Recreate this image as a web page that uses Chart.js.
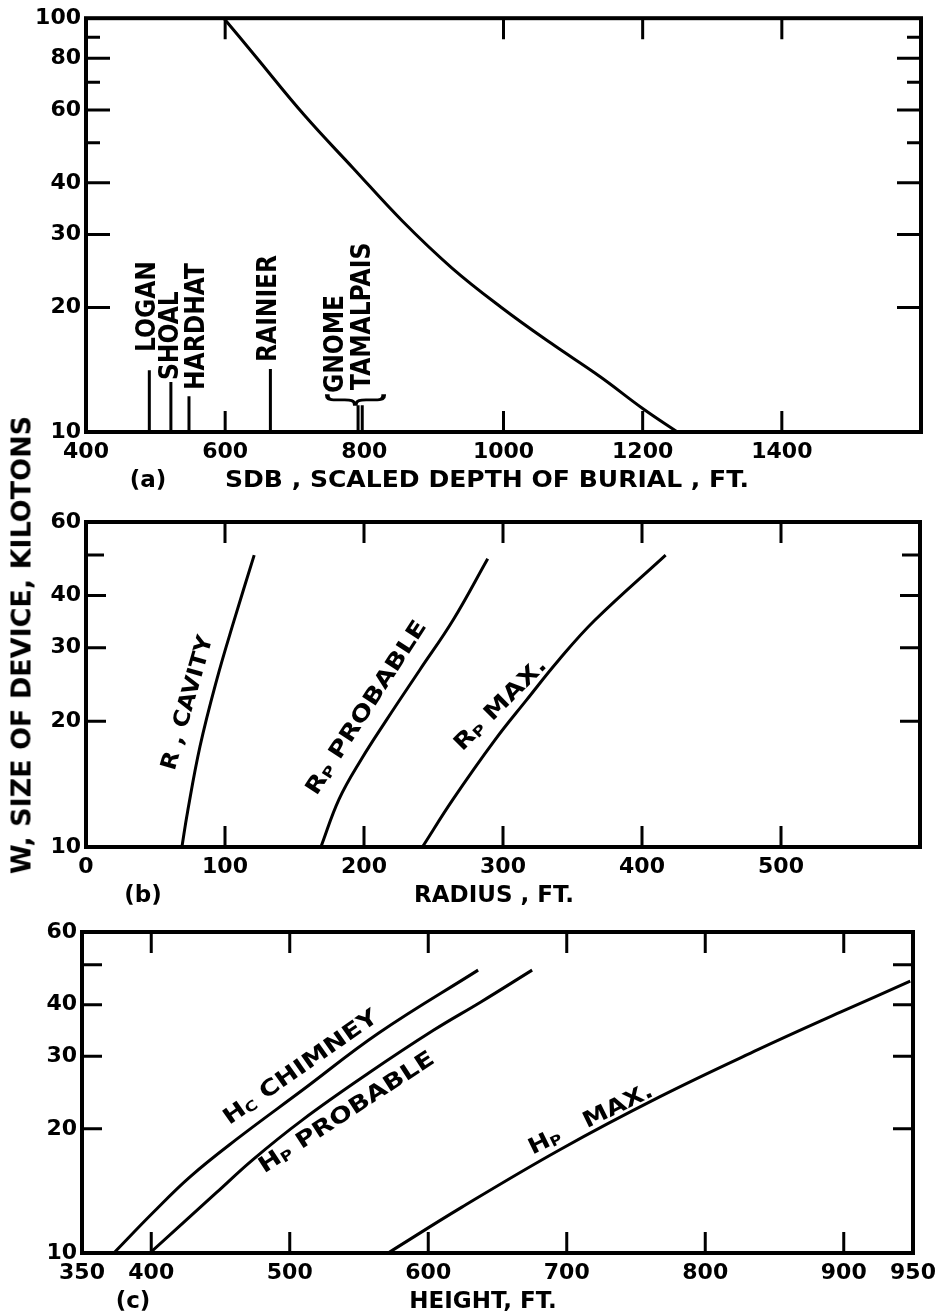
<!DOCTYPE html>
<html>
<head>
<meta charset="utf-8">
<script src="https://cdn.jsdelivr.net/npm/chart.js@4.4.1/dist/chart.umd.min.js"></script>
<style>
body { margin: 0; background: #fff; }
#page { position: relative; width: 945px; height: 1315px; overflow: hidden; background: #fff; }
#page canvas { position: absolute; left: 0; }
#ytitle { position: absolute; left: 21px; top: 645px; font-size: 27px; font-weight: bold; font-family: "DejaVu Sans", sans-serif; color: #000;
  white-space: nowrap; transform: translate(-50%, -50%) rotate(-90deg); }
</style>
</head>
<body>
<div id="page">
  <canvas id="chart-a" width="945" height="500" style="top:0px"></canvas>
  <canvas id="chart-b" width="945" height="410" style="top:500px"></canvas>
  <canvas id="chart-c" width="945" height="405" style="top:910px"></canvas>
  <div id="ytitle">W, SIZE OF DEVICE, KILOTONS</div>
</div>
<script>
Chart.defaults.font.family = '"DejaVu Sans", sans-serif';
Chart.defaults.font.weight = 'bold';
Chart.defaults.color = '#000';

// (a) scaled depth of burial (ft) against device size (kt)
var sdbFt = [598, 642, 713, 784, 855, 926, 997, 1068, 1139, 1200, 1250];
var sdbKt = [100, 81.5, 58.5, 43.4, 32.3, 24.9, 20.0, 16.4, 13.6, 11.4, 10];
var shotNames = ['LOGAN', 'SHOAL', 'HARDHAT', 'RAINIER', 'GNOME', 'TAMALPAIS'];
var shotSdb = [491, 522, 548, 665, 791, 797];
var shotKt = [14.1, 13.2, 12.2, 14.2, 11.6, 11.6];

// (b) radius (ft)
var cavityR = [69, 73, 82, 94, 106, 121];
var cavityKt = [10, 12.1, 17.4, 25.1, 34.4, 50];
var rProbR = [169, 182, 198, 216, 240, 264, 289];
var rProbKt = [10, 13.0, 16.2, 20.1, 26.5, 34.9, 49];
var rMaxR = [242, 264, 294, 317, 340, 366, 417];
var rMaxKt = [10, 13.0, 18.0, 22.5, 28.0, 34.9, 50];

// (c) height (ft)
var chimH = [373, 401, 428, 461, 509, 564, 636];
var chimKt = [10, 12.5, 15.3, 18.8, 24.8, 34.1, 48.5];
var hProbH = [399, 447, 473, 509, 557, 604, 638, 675];
var hProbKt = [10, 14.0, 16.8, 21.0, 27.3, 34.7, 40.6, 48.5];
var hMaxH = [571, 624, 695, 767, 838, 898, 948];
var hMaxKt = [10, 12.9, 17.8, 23.9, 31.1, 38.4, 45.6];

// tick values
var xTicksA = [400, 600, 800, 1000, 1200, 1400];
var xMarksA = [600, 1000, 1200, 1400];
var yTicksA = [10, 20, 30, 40, 60, 80, 100];
var yMinorA = [50, 70, 90];
var xTicksB = [0, 100, 200, 300, 400, 500];
var xTicksC = [350, 400, 500, 600, 700, 800, 900, 950];
var yTicksBC = [10, 20, 30, 40, 60];
var yMinorBC = [50];

function pts(xs, ys){
  return xs.map(function(x, i){ return {x: x, y: ys[i]}; });
}

function curve(xs, ys){
  return {
    data: pts(xs, ys),
    showLine: true,
    borderColor: '#000',
    borderWidth: 3,
    pointRadius: 0,
    tension: 0.4,
    fill: false
  };
}

function straight(xs, ys){
  var d = curve(xs, ys);
  d.tension = 0;
  return d;
}

// text along any angle; parts = [text, size, dy]
function drawLabel(c, parts, x, y, deg, stretch, align){
  c.save();
  c.translate(x, y);
  c.rotate(deg * Math.PI / 180);
  c.scale(stretch || 1, 1);
  c.fillStyle = '#000';
  c.textBaseline = 'middle';
  c.textAlign = 'left';
  var total = 0;
  parts.forEach(function(p){
    c.font = 'bold ' + p[1] + 'px "DejaVu Sans"';
    total += c.measureText(p[0]).width;
  });
  var cx = align == 'left' ? 0 : -total / 2;
  parts.forEach(function(p){
    c.font = 'bold ' + p[1] + 'px "DejaVu Sans"';
    c.fillText(p[0], cx, p[2] || 0);
    cx += c.measureText(p[0]).width;
  });
  c.restore();
}

// frame with inward ticks on all four sides
function framePlugin(o){
  return {
    id: 'frame',
    afterDraw: function(chart){
      var c = chart.ctx, a = chart.chartArea;
      var xs = chart.scales.x, ys = chart.scales.y;
      c.save();
      c.strokeStyle = '#000';
      c.lineWidth = 3;
      c.beginPath();
      o.xTicks.forEach(function(v){
        var px = xs.getPixelForValue(v);
        if(px <= a.left + 3 || px >= a.right - 3) return;
        c.moveTo(px, a.bottom); c.lineTo(px, a.bottom - 21);
        c.moveTo(px, a.top); c.lineTo(px, a.top + 21);
      });
      o.yTicks.forEach(function(v){
        var py = ys.getPixelForValue(v);
        if(py <= a.top + 3 || py >= a.bottom - 3) return;
        c.moveTo(a.left, py); c.lineTo(a.left + o.yLen, py);
        c.moveTo(a.right, py); c.lineTo(a.right - o.yLen, py);
      });
      o.yMinor.forEach(function(v){
        var py = ys.getPixelForValue(v);
        c.moveTo(a.left, py); c.lineTo(a.left + o.minorLen, py);
        c.moveTo(a.right, py); c.lineTo(a.right - o.minorLen, py);
      });
      c.stroke();
      c.lineWidth = 4;
      c.strokeRect(a.left, a.top, a.right - a.left, a.bottom - a.top);
      c.restore();
      o.text(chart.ctx, chart);
    }
  };
}

function scalesFor(xMin, xMax, xTicks, yMax, yTicks, leftW, bottomH){
  return {
    x: {
      type: 'linear', min: xMin, max: xMax,
      grid: {display: false, drawTicks: false},
      border: {display: false},
      afterBuildTicks: function(s){ s.ticks = xTicks.map(function(v){ return {value: v}; }); },
      afterFit: function(s){ s.height = bottomH; },
      ticks: {autoSkip: false, maxRotation: 0, padding: 7, font: {size: 22}, color: '#000',
        callback: function(v){ return String(v); }}
    },
    y: {
      type: 'logarithmic', min: 10, max: yMax,
      grid: {display: false, drawTicks: false},
      border: {display: false},
      afterBuildTicks: function(s){ s.ticks = yTicks.map(function(v){ return {value: v}; }); },
      afterFit: function(s){ s.width = leftW; },
      ticks: {autoSkip: false, padding: 5, font: {size: 22}, color: '#000',
        callback: function(v){ return String(v); }}
    }
  };
}

function baseOptions(padding, scales){
  return {
    responsive: false,
    animation: false,
    devicePixelRatio: 1,
    layout: {padding: padding},
    plugins: {legend: {display: false}, tooltip: {enabled: false}},
    scales: scales
  };
}

//START CHART A
var datasetsA = [curve(sdbFt, sdbKt)];
shotNames.forEach(function(n, i){
  datasetsA.push(straight([shotSdb[i], shotSdb[i]], [10, shotKt[i]]));
});
var configA = {
  type: 'scatter',
  data: {datasets: datasetsA},
  options: baseOptions({left: 0, top: 16, right: 24, bottom: 0},
    scalesFor(400, 1600, xTicksA, 100, yTicksA, 86, 68)),
  plugins: [framePlugin({
    xTicks: xMarksA, yTicks: yTicksA, yMinor: yMinorA, yLen: 24, minorLen: 14,
    text: function(c, chart){
      var xs = chart.scales.x;
      drawLabel(c, [['SDB , SCALED DEPTH OF BURIAL , FT.', 23]], 487, 481, 0, 1.09);
      drawLabel(c, [['(a)', 23]], 148, 481, 0, 1);
      var dx = [-1, 0, 8, -1, -22, 1];
      var y0 = [352, 380, 390, 362, 393, 390];
      shotNames.forEach(function(n, i){
        drawLabel(c, [[n, 26]], xs.getPixelForValue(shotSdb[i]) + dx[i], y0[i], -90, 0.9, 'left');
      });
      // brace over gnome / tamalpais
      var mx = (xs.getPixelForValue(shotSdb[4]) + xs.getPixelForValue(shotSdb[5])) / 2 - 3;
      c.save();
      c.translate(mx, 400);
      c.rotate(-Math.PI / 2);
      c.scale(0.45, 1);
      c.fillStyle = '#000';
      c.font = '66px "DejaVu Sans"';
      c.textAlign = 'center';
      c.textBaseline = 'alphabetic';
      c.fillText('{', 0, 18);
      c.restore();
    }
  })]
};
var chartA = new Chart(document.getElementById('chart-a').getContext('2d'), configA);
//END CHART A

//START CHART B
var configB = {
  type: 'scatter',
  data: {datasets: [curve(cavityR, cavityKt), curve(rProbR, rProbKt), curve(rMaxR, rMaxKt)]},
  options: baseOptions({left: 0, top: 22, right: 25, bottom: 0},
    scalesFor(0, 600, xTicksB, 60, yTicksBC, 86, 63)),
  plugins: [framePlugin({
    xTicks: xTicksB, yTicks: yTicksBC, yMinor: yMinorBC, yLen: 20, minorLen: 18,
    text: function(c, chart){
      drawLabel(c, [['RADIUS , FT.', 23]], 494, 396, 0, 1);
      drawLabel(c, [['(b)', 23]], 143, 396, 0, 1);
      drawLabel(c, [['R , CAVITY', 22]], 188, 203, -74, 1.08);
      drawLabel(c, [['R', 22], ['P', 14, 4], [' PROBABLE', 22]], 367, 208, -57, 1.22);
      drawLabel(c, [['R', 22], ['P', 14, 4], [' MAX.', 22]], 501, 205, -45, 1.22);
    }
  })]
};
var chartB = new Chart(document.getElementById('chart-b').getContext('2d'), configB);
//END CHART B

//START CHART C
var configC = {
  type: 'scatter',
  data: {datasets: [curve(chimH, chimKt), curve(hProbH, hProbKt), curve(hMaxH, hMaxKt)]},
  options: baseOptions({left: 0, top: 22, right: 32, bottom: 0},
    scalesFor(350, 950, xTicksC, 60, yTicksBC, 82, 62)),
  plugins: [framePlugin({
    xTicks: xTicksC, yTicks: yTicksBC, yMinor: yMinorBC, yLen: 20, minorLen: 20,
    text: function(c, chart){
      drawLabel(c, [['HEIGHT, FT.', 23]], 483, 392, 0, 1);
      drawLabel(c, [['(c)', 23]], 133, 392, 0, 1);
      drawLabel(c, [['H', 22], ['C', 14, 4], [' CHIMNEY', 22]], 301, 158, -35, 1.22);
      drawLabel(c, [['H', 22], ['P', 14, 4], [' PROBABLE', 22]], 347, 203, -33, 1.22);
      drawLabel(c, [['H', 22], ['P', 14, 4], ['   MAX.', 22]], 591, 210, -26, 1.17);
    }
  })]
};
var chartC = new Chart(document.getElementById('chart-c').getContext('2d'), configC);
//END CHART C
</script>
</body>
</html>
